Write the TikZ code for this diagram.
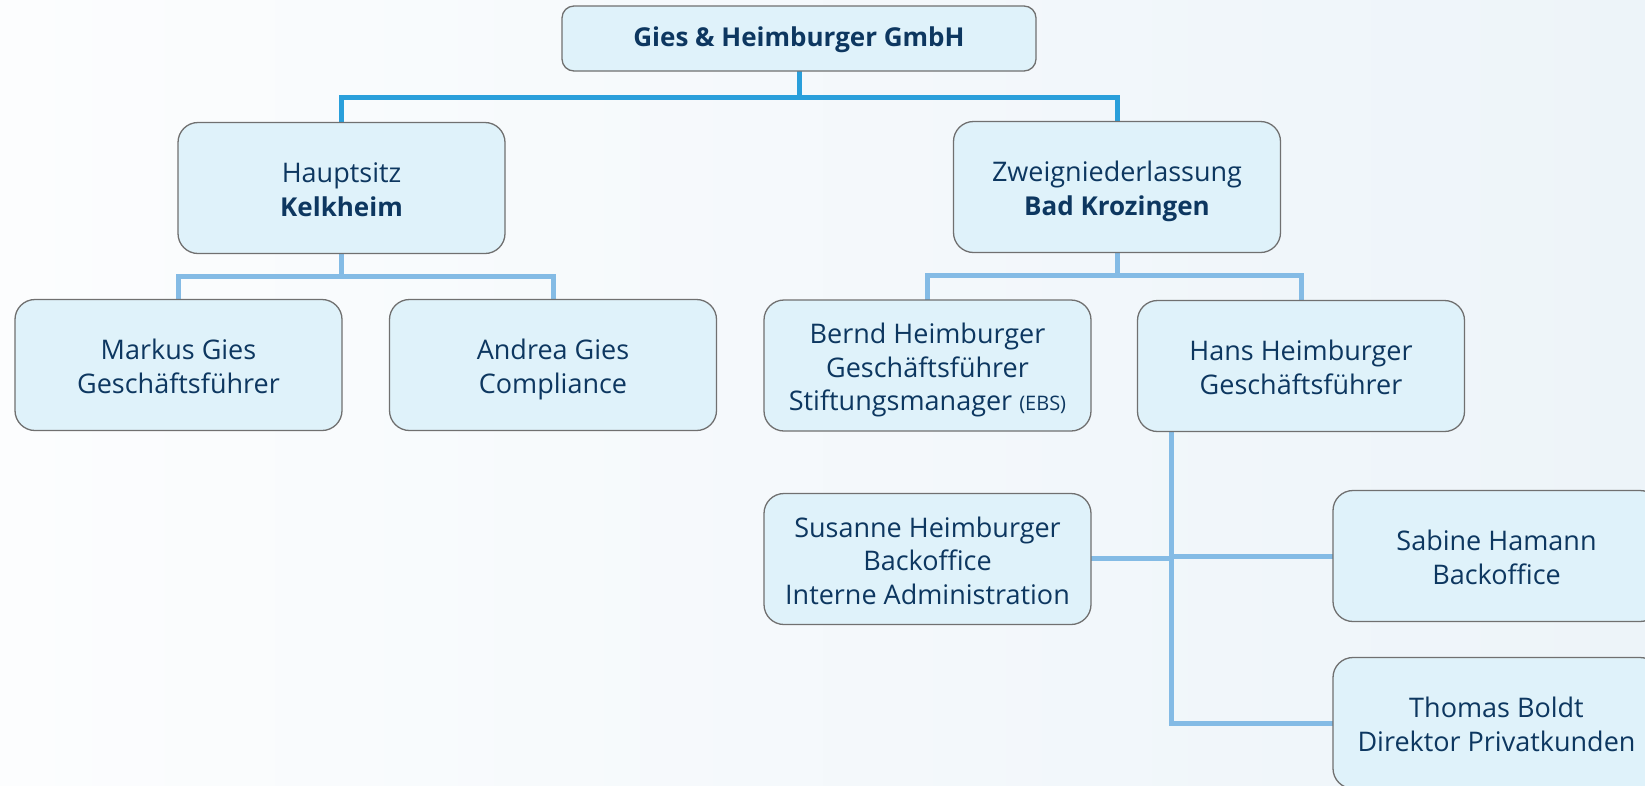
\documentclass[tikz,border=0pt]{standalone}
\usepackage{fontspec}
\setmainfont{Open Sans}
\definecolor{bgL}{HTML}{FCFDFE}
\definecolor{bgR}{HTML}{EDF4F9}
\definecolor{boxfill}{HTML}{DFF2FA}
\definecolor{boxline}{HTML}{707070}
\definecolor{txt}{HTML}{0D3760}
\definecolor{lineA}{HTML}{2A9FDB}
\definecolor{lineB}{HTML}{84BBE5}
\tikzset{
  orgbox/.style={draw=boxline, line width=1.3pt, fill=boxfill, rounded corners=20pt,
    minimum width=327pt, minimum height=131pt, inner sep=0pt},
  topbox/.style={orgbox, minimum width=474pt, minimum height=65pt, rounded corners=12pt},
  txtnode/.style={align=center, text=txt, inner sep=0pt,
    font=\fontsize{27}{33.5}\selectfont},
  toptxt/.style={txtnode, font=\fontsize{26}{33}\selectfont\bfseries},
  connA/.style={draw=lineA, line width=5pt, line join=miter},
  connB/.style={draw=lineB, line width=5pt, line join=miter}
}
\newcommand{\bl}[1]{{\fontsize{26}{33.5}\selectfont\bfseries #1}}
\newcommand{\orgnode}[3]{%
  \node[orgbox] (#1) at #2 {};
  \node[txtnode] (#1-t) at ([yshift=-4.8pt]#1.center) {\strut #3\strut};}
\begin{document}
\begin{tikzpicture}[x=1pt, y=-1pt]
\shade[left color=bgL, right color=bgR] (0,0) rectangle (1645,785);
\useasboundingbox (0,0) rectangle (1645,785);

\coordinate (j0) at (799,97);
\coordinate (j1) at (341.5,276);
\coordinate (j2) at (1117,275);
\coordinate (jt) at (1171,723);

% connectors
\draw[connA] (799,71) -- (j0) -| (341.5,122);
\draw[connA] (j0) -| (1117,121);
\draw[connB] (341.5,254) -- (j1) -| (178.5,299);
\draw[connB] (j1) -| (553,299);
\draw[connB] (1117,253) -- (j2) -| (927.5,300);
\draw[connB] (j2) -| (1301,301);
\draw[connB] (1171,431) -- (jt) -- (1333,723);
\draw[connB] (1091,558) -- (1171,558);
\draw[connB] (1171,556) -- (1333,556);

% nodes
\node[topbox] (top) at (799,38.5) {};
\node[toptxt] (top-t) at ([yshift=-1.5pt]top.center) {Gies \& Heimburger GmbH};
\orgnode{hq}{(341.5,188)}{Hauptsitz\\\bl{Kelkheim}}
\orgnode{bk}{(1117,187)}{Zweigniederlassung\\\bl{Bad Krozingen}}
\orgnode{markus}{(178.5,365)}{Markus Gies\\Geschäftsführer}
\orgnode{andrea}{(553,365)}{Andrea Gies\\Compliance}
\orgnode{bernd}{(927.5,365.5)}{Bernd Heimburger\\Geschäftsführer\\Stiftungsmanager {\fontsize{20}{20}\selectfont(EBS)}}
\orgnode{hans}{(1301,366)}{Hans Heimburger\\Geschäftsführer}
\orgnode{susanne}{(927.5,559)}{Susanne Heimburger\\Backoffice\\Interne Administration}
\orgnode{sabine}{(1496.5,556)}{Sabine Hamann\\Backoffice}
\orgnode{thomas}{(1496.5,723)}{Thomas Boldt\\Direktor Privatkunden}
\end{tikzpicture}
\end{document}
